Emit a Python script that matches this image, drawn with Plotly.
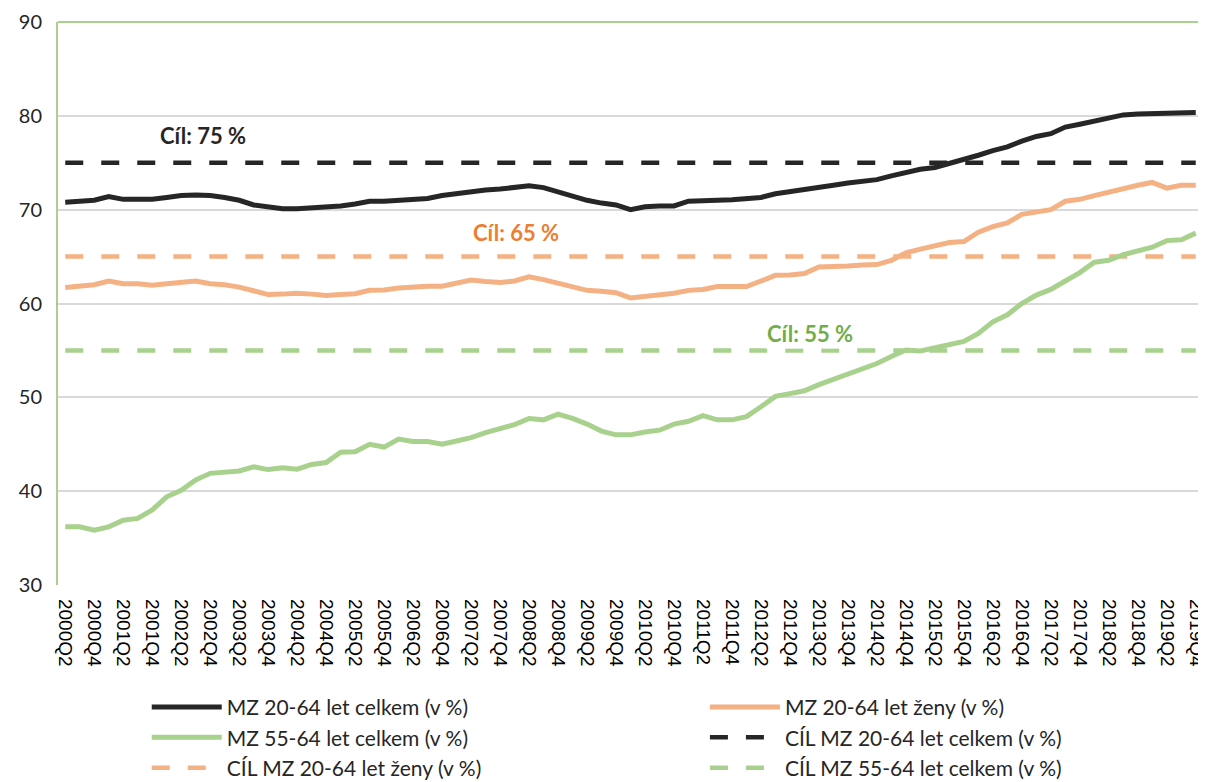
import plotly.graph_objects as go

# ---- data ----
quarters = [f"{y}Q{q}" for y in range(2000, 2020) for q in range(1, 5)][1:]  # 2000Q2 .. 2019Q4

total_20_64 = [70.8, 70.95, 71.0, 71.4, 71.1, 71.1, 71.1, 71.3, 71.5, 71.55,
               71.5, 71.3, 71.0, 70.5, 70.3, 70.1, 70.1, 70.2, 70.2, 70.4,
               70.6, 70.9, 70.9, 71.0, 71.1, 71.2, 71.5, 71.7, 71.95, 72.1,
               72.2, 72.35, 72.55, 72.35, 71.9, 71.5, 71.0, 70.7, 70.5, 70.0,
               70.3, 70.4, 70.4, 70.9, 70.9, 71.0, 71.05, 71.2, 71.3, 71.7,
               71.9, 72.1, 72.4, 72.6, 72.85, 73.05, 73.2, 73.6, 74.0, 74.3,
               74.5, 74.9, 75.3, 75.8, 76.3, 76.7, 77.3, 77.8, 78.1, 78.8,
               79.1, 79.4, 79.8, 80.1, 80.2, 80.25, 80.3, 80.35, 80.35]

women_20_64 = [61.7, 61.9, 62.0, 62.4, 62.1, 62.1, 61.95, 62.1, 62.3, 62.4,
               62.1, 62.0, 61.75, 61.3, 60.95, 61.0, 61.1, 61.0, 60.85, 60.95,
               61.05, 61.4, 61.45, 61.65, 61.8, 61.85, 61.85, 62.2, 62.5, 62.35,
               62.25, 62.4, 62.85, 62.55, 62.2, 61.75, 61.4, 61.3, 61.15, 60.6,
               60.75, 60.85, 61.1, 61.4, 61.5, 61.8, 61.8, 61.8, 62.4, 63.0,
               63.05, 63.2, 63.9, 63.9, 64.0, 64.1, 64.15, 64.6, 65.4, 65.8,
               66.2, 66.5, 66.6, 67.6, 68.2, 68.6, 69.5, 69.7, 70.0, 70.9,
               71.1, 71.5, 71.9, 72.2, 72.6, 72.9, 72.3, 72.6, 72.6]

total_55_64 = [36.2, 36.2, 35.85, 36.2, 36.9, 37.1, 38.0, 39.4, 40.1, 41.2,
               41.9, 42.05, 42.15, 42.6, 42.3, 42.5, 42.35, 42.85, 43.05, 44.15,
               44.2, 45.0, 44.7, 45.55, 45.3, 45.3, 45.0, 45.35, 45.7, 46.25,
               46.7, 47.1, 47.75, 47.6, 48.2, 47.75, 47.15, 46.4, 46.0, 46.0,
               46.3, 46.5, 47.15, 47.45, 48.05, 47.6, 47.6, 47.95, 49.0, 50.1,
               50.4, 50.7, 51.35, 51.9, 52.4, 52.95, 53.6, 54.35, 55.05, 54.95,
               55.25, 55.6, 55.95, 56.8, 58.05, 58.8, 60.0, 60.9, 61.5, 62.4,
               63.3, 64.4, 64.6, 65.2, 65.6, 66.0, 66.7, 66.8, 67.5]

target_total = 75
target_women = 65
target_55_64 = 55

series_names = ["MZ 20-64 let celkem (v %)", "MZ 20-64 let ženy (v %)",
                "MZ 55-64 let celkem (v %)", "CÍL MZ 20-64 let celkem (v %)",
                "CÍL MZ 20-64 let ženy (v %)", "CÍL MZ 55-64 let celkem (v %)"]

target_labels = ["Cíl: 75 %", "Cíl: 65 %", "Cíl: 55 %"]
tick_labels = quarters[::2]

# ---- styles ----
BLACK = "#262626"
ORANGE = "#F4B183"
GREEN = "#A9D18E"
ORANGE_TXT = "#ED7D31"
GREEN_TXT = "#70AD47"
GRID = "#D9D9D9"
FONT = "Lato, 'Open Sans', sans-serif"

fig = go.Figure()
n = len(quarters)
dash_pat = "18px,18px"

# (values, colour, dashed?, legend id, rank)
specs = [
    ([target_total] * n, BLACK, True, "legend2", 2),
    ([target_women] * n, ORANGE, True, "legend", 3),
    ([target_55_64] * n, GREEN, True, "legend2", 3),
    (total_20_64, BLACK, False, "legend", 1),
    (women_20_64, ORANGE, False, "legend2", 1),
    (total_55_64, GREEN, False, "legend", 2),
]
name_idx = [3, 4, 5, 0, 1, 2]
for (vals, col, is_dash, leg, rank), ni in zip(specs, name_idx):
    fig.add_trace(go.Scatter(
        x=quarters, y=vals, mode="lines", name=series_names[ni],
        legend=leg, legendrank=rank,
        line=dict(color=col, width=4.5 if is_dash else 5,
                  dash=dash_pat if is_dash else "solid")))

ann_specs = [(9.5, 77.9, BLACK, None), (31.1, 67.55, ORANGE_TXT, None),
             (51.4, 56.8, GREEN_TXT, "white")]
for txt, (ax, ay, col, bg) in zip(target_labels, ann_specs):
    fig.add_annotation(x=ax, y=ay, xref="x", yref="y", text=f"<b>{txt}</b>",
                       showarrow=False, bgcolor=bg, borderpad=1,
                       font=dict(family=FONT, size=22, color=col))

fig.add_shape(type="line", xref="paper", yref="paper", x0=0, x1=1, y0=1, y1=1,
              line=dict(color=GREEN, width=2))

leg_common = dict(orientation="v", yanchor="top", xanchor="left",
                  traceorder="normal", itemwidth=70,
                  font=dict(family=FONT, size=21, color=BLACK),
                  bgcolor="rgba(0,0,0,0)", borderwidth=0)

# the page places the figure 8px from the top-left corner
fig.update_layout(
    width=1198, height=774,
    margin=dict(l=50, r=3, t=14, b=197, autoexpand=False),
    plot_bgcolor="white", paper_bgcolor="white",
    showlegend=True,
    legend=dict(x=0.0775, y=-0.181, **leg_common),
    legend2=dict(x=0.565, y=-0.181, **leg_common),
    xaxis=dict(type="category", range=[-0.5, n - 0.5], tickmode="array",
               tickvals=tick_labels, ticktext=tick_labels, tickangle=90,
               showgrid=False, showline=False, ticks="", automargin=False,
               ticklabelstandoff=13,
               tickfont=dict(family="Liberation Sans, Arial, sans-serif", size=19, color="#000000")),
    yaxis=dict(range=[30, 90], dtick=10, showgrid=True, gridcolor=GRID, gridwidth=1.5,
               showline=True, linecolor=GREEN, linewidth=2, mirror=True,
               zeroline=False, ticks="", ticklabelstandoff=10, automargin=False,
               tickfont=dict(family=FONT, size=20, color=BLACK)),
)

fig.write_html("out.html")
